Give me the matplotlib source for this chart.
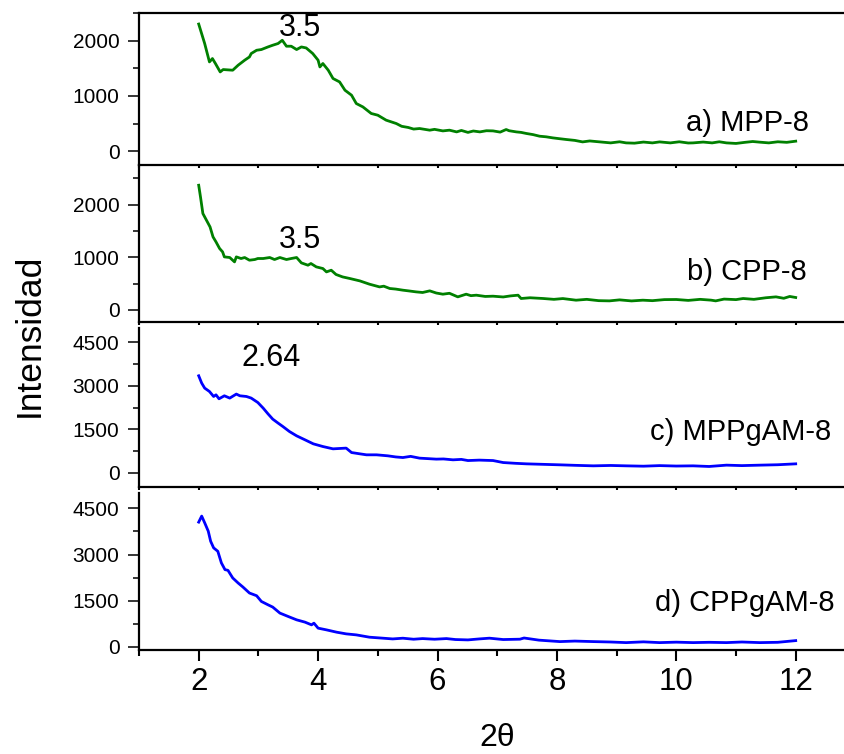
import matplotlib
matplotlib.use("Agg")
import matplotlib.pyplot as plt
from matplotlib.ticker import MultipleLocator

plt.rcParams['font.family'] = ['Liberation Sans', 'DejaVu Sans']

# a) MPP-8
x_a = [2.0, 2.10, 2.18, 2.23, 2.28, 2.36, 2.41, 2.57, 2.66, 2.77, 2.85, 2.88, 2.97,
       3.05, 3.16, 3.24, 3.33, 3.40, 3.47, 3.55, 3.64, 3.72, 3.80, 3.91, 4.00, 4.03,
       4.08, 4.17, 4.25, 4.36, 4.45, 4.56, 4.64, 4.75, 4.89, 5.00, 5.14, 5.31, 5.40,
       5.51, 5.60, 5.70, 5.87, 5.95, 6.09, 6.20, 6.32, 6.40, 6.51, 6.60, 6.71, 6.82,
       6.93, 7.05, 7.15, 7.20, 7.32, 7.40, 7.49, 7.60, 7.71, 7.82, 7.93, 8.05, 8.16,
       8.30, 8.43, 8.55, 8.72, 8.90, 9.05, 9.16, 9.30, 9.45, 9.60, 9.72, 9.90, 10.05,
       10.20, 10.28, 10.45, 10.60, 10.72, 10.84, 11.00, 11.15, 11.28, 11.40, 11.55,
       11.70, 11.85, 12.0]
y_a = [2300, 1948, 1615, 1676, 1586, 1434, 1477, 1465, 1555, 1646, 1705, 1767, 1826,
       1839, 1886, 1917, 1948, 2007, 1899, 1899, 1839, 1886, 1868, 1767, 1646, 1524,
       1586, 1465, 1315, 1253, 1103, 1013, 862, 801, 682, 651, 561, 500, 450,
       429, 400, 410, 380, 395, 367, 380, 349, 375, 340, 365, 349, 370,
       367, 345, 392, 370, 349, 340, 320, 300, 271, 260, 241, 225, 211,
       195, 168, 185, 168, 150, 170, 150, 145, 165, 150, 168, 150, 170,
       148, 150, 165, 150, 170, 150, 140, 160, 175, 163, 150,
       170, 160, 181]

# b) CPP-8
x_b = [2.0, 2.03, 2.07, 2.13, 2.19, 2.24, 2.29, 2.35, 2.40, 2.43, 2.52, 2.60, 2.63,
       2.71, 2.77, 2.85, 2.94, 2.99, 3.08, 3.19, 3.27, 3.36, 3.47, 3.55, 3.64, 3.72,
       3.83, 3.88, 3.97, 4.08, 4.14, 4.22, 4.30, 4.41, 4.53, 4.70, 4.86, 5.03, 5.10,
       5.20, 5.30, 5.42, 5.52, 5.64, 5.75, 5.87, 5.98, 6.09, 6.20, 6.34, 6.48, 6.56,
       6.65, 6.80, 6.93, 7.10, 7.22, 7.35, 7.40, 7.55, 7.77, 7.95, 8.10, 8.32, 8.50,
       8.70, 8.88, 9.05, 9.25, 9.44, 9.60, 9.80, 10.00, 10.20, 10.40, 10.58, 10.66,
       10.80, 11.00, 11.12, 11.30, 11.50, 11.67, 11.80, 11.90, 12.0]
y_b = [2366, 2144, 1829, 1702, 1575, 1385, 1290, 1165, 1101, 1006, 994, 911, 1006,
       975, 994, 943, 956, 975, 975, 994, 956, 994, 956, 975, 994, 892,
       848, 880, 816, 785, 721, 753, 672, 626, 596, 550, 488, 436, 450,
       406, 395, 374, 360, 342, 330, 361, 320, 298, 315, 247, 298, 270,
       279, 255, 260, 245, 265, 279, 216, 230, 216, 200, 215, 184, 200,
       175, 171, 190, 170, 184, 175, 195, 197, 180, 200, 185, 171,
       205, 195, 216, 200, 230, 247, 220, 255, 235]

# c) MPPgAM-8
x_c = [2.0, 2.05, 2.10, 2.18, 2.25, 2.29, 2.34, 2.43, 2.52, 2.63, 2.69, 2.80, 2.88,
       2.99, 3.08, 3.16, 3.24, 3.33, 3.41, 3.52, 3.64, 3.78, 3.92, 4.08, 4.25, 4.47,
       4.56, 4.70, 4.81, 4.98, 5.17, 5.30, 5.42, 5.55, 5.70, 5.85, 5.98, 6.10, 6.26,
       6.40, 6.51, 6.70, 6.93, 7.10, 7.30, 7.49, 7.75, 8.05, 8.30, 8.61, 8.90, 9.16,
       9.45, 9.72, 10.00, 10.28, 10.55, 10.84, 11.10, 11.40, 11.70, 12.0]
y_c = [3347, 3094, 2921, 2804, 2631, 2689, 2551, 2655, 2575, 2714, 2655, 2631, 2575,
       2423, 2229, 2032, 1848, 1710, 1592, 1419, 1270, 1132, 993, 900, 820, 845,
       692, 647, 613, 613, 578, 540, 519, 560, 498, 480, 464, 470, 440,
       455, 415, 430, 415, 346, 320, 301, 285, 267, 250, 232, 245, 232,
       220, 240, 225, 232, 210, 256, 240, 256, 270, 301]

# d) CPPgAM-8
x_d = [2.0, 2.05, 2.10, 2.16, 2.20, 2.25, 2.32, 2.38, 2.44, 2.49, 2.57, 2.66, 2.74,
       2.85, 2.97, 3.05, 3.16, 3.24, 3.36, 3.50, 3.64, 3.78, 3.89, 3.93, 4.00, 4.14,
       4.31, 4.47, 4.64, 4.86, 5.09, 5.25, 5.42, 5.60, 5.75, 5.95, 6.15, 6.30, 6.51,
       6.70, 6.87, 7.10, 7.38, 7.45, 7.70, 8.05, 8.30, 8.61, 8.90, 9.16, 9.45, 9.72,
       10.00, 10.28, 10.55, 10.84, 11.10, 11.40, 11.70, 12.0]
y_d = [4054, 4250, 4033, 3760, 3433, 3218, 3107, 2729, 2511, 2488, 2240, 2077, 1947,
       1751, 1663, 1477, 1369, 1294, 1099, 988, 880, 805, 717, 772, 610, 554,
       479, 424, 391, 316, 283, 260, 283, 250, 271, 250, 271, 240, 228,
       260, 284, 240, 251, 290, 220, 173, 190, 173, 160, 140, 165, 140,
       155, 140, 150, 140, 160, 140, 150, 205]

series = [
    (x_a, y_a, 'green', 'a) MPP-8', (12.23, 360), '3.5', (3.69, 2080)),
    (x_b, y_b, 'green', 'b) CPP-8', (12.18, 560), '3.5', (3.69, 1184)),
    (x_c, y_c, 'blue', 'c) MPPgAM-8', (12.60, 1132), '2.64', (3.22, 3669)),
    (x_d, y_d, 'blue', 'd) CPPgAM-8', (12.65, 1151), None, None),
]
ylims = [(-250, 2500), (-230, 2750), (-500, 5000), (-100, 5000)]
ymajor = [1000, 1000, 1500, 1500]

# panel boxes in pixels (top, bottom)
W, H = 845, 754
boxes = [(13, 165), (165, 322), (328, 487), (493, 650)]
left_px = 139
xmax = 1 + (W - left_px) / 59.7

fig = plt.figure(figsize=(W / 100, H / 100), dpi=100)

for i, (xs, ys, col, lab, labpos, pk, pkpos) in enumerate(series):
    top, bot = boxes[i]
    ax = fig.add_axes([left_px / W, 1 - bot / H, (W - left_px) / W, (bot - top) / H])
    ax.patch.set_alpha(0)
    ax.plot(xs, ys, color=col, lw=2.0)
    ax.set_xlim(1, xmax)
    ax.set_ylim(*ylims[i])
    ax.spines['right'].set_visible(False)
    if i != 0:
        ax.spines['top'].set_visible(False)
    for s in ax.spines.values():
        s.set_linewidth(1.6)
    ax.yaxis.set_major_locator(MultipleLocator(ymajor[i]))
    ax.yaxis.set_minor_locator(MultipleLocator(ymajor[i] / 2))
    ax.xaxis.set_major_locator(MultipleLocator(2))
    ax.xaxis.set_minor_locator(MultipleLocator(1))
    ax.tick_params(axis='y', which='major', direction='out', length=8, width=1.1,
                   labelsize=15, pad=6)
    ax.tick_params(axis='y', which='minor', direction='out', length=4.5, width=1.1)
    if i == 3:
        ax.tick_params(axis='x', which='major', direction='out', length=8, width=1.5,
                       labelsize=22.5, pad=4)
        ax.tick_params(axis='x', which='minor', direction='out', length=4.5, width=1.5)
    else:
        ax.tick_params(axis='x', which='both', direction='out', length=2, width=1.5,
                       labelbottom=False)
    ax.text(labpos[0], labpos[1], lab, ha='right', va='baseline', fontsize=21)
    if pk:
        ax.text(pkpos[0], pkpos[1], pk, ha='center', va='baseline', fontsize=22)

fig.text(0.035, 1 - 335 / H, 'Intensidad', rotation=90, ha='center', va='center',
         fontsize=25.5)
fig.text(497 / W, 1 - 738 / H, '2θ', ha='center', va='center', fontsize=23)

fig.savefig('out.png', dpi=100)
